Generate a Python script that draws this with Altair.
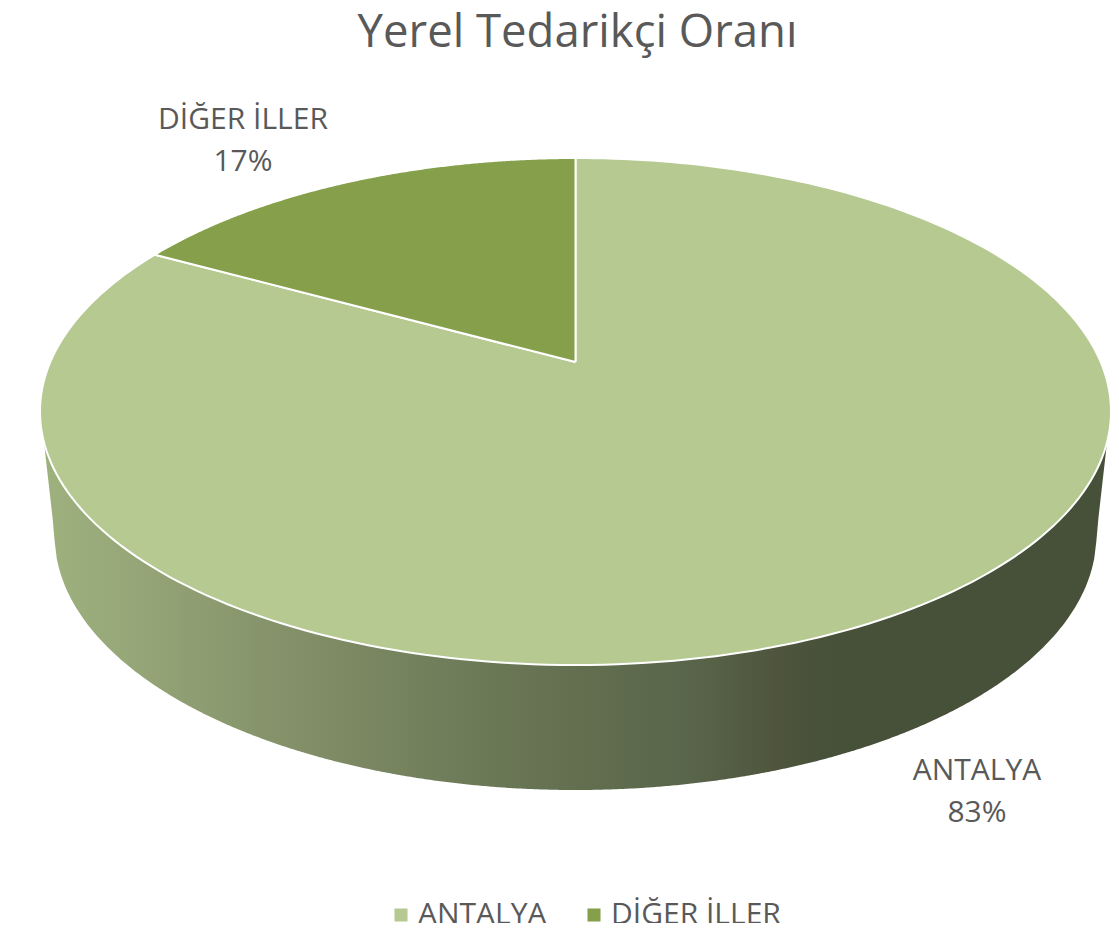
import numpy as np
import pandas as pd
import altair as alt

categories = ["ANTALYA", "DİĞER İLLER"]
shares = [83, 17]
colors = ["#b5c991", "#859f4a"]
title_text = "Yerel Tedarikçi Oranı"
wall_offsets = [0.0, 0.05, 0.24, 0.38, 0.50, 0.61, 0.69, 0.74, 1.0]
wall_colors = ["#9db17d", "#9aab7b", "#828f68", "#6f7d5a", "#636f4f", "#59654a", "#4e553c", "#475039", "#475039"]
FONT = "Open Sans"
TEXT = "#595959"

# Pie geometry: projected disc in page pixels
CX, CY, RX, RY, TILT = 575.5, 411.5, 535.5, 253.5, 0.195
BCY, BRX, BRY = 535.0, 521.0, 255.0


def rim(t):
    a = 2 * np.pi * np.asarray(t)
    sx, cy = np.sin(a), np.cos(a)
    den = 1 + TILT * cy
    u = sx * np.sqrt(1 - TILT ** 2) / den
    v = (cy + TILT) / den
    return CX + RX * u, CY - RY * v


def wedge(cat, start, end):
    ts = np.linspace(start, end, 240)
    x, y = rim(ts)
    apex_x, apex_y = CX, CY - RY * TILT
    xs = [apex_x] + list(x) + [apex_x]
    ys = [apex_y] + list(y) + [apex_y]
    return pd.DataFrame({"cat": cat, "x": xs, "y": ys, "o": range(len(xs))})


total = sum(shares)
frac = [s / total for s in shares]
top = pd.concat([
    wedge(categories[0], 0, frac[0]),
    wedge(categories[1], frac[0], 1),
])

# side wall
wx = np.linspace(44, 1107, 500)
wtop = CY + RY * np.sqrt(np.clip(1 - ((wx - CX) / RX) ** 2, 0, 1))
wbot = BCY + BRY * np.sqrt(np.clip(1 - ((wx - CX) / BRX) ** 2, 0, 1))
wbot = np.where(wx < 54.5, wtop[0] + (535 - wtop[0]) * (wx - 44) / 10.5, wbot)
wbot = np.where(wx > 1096.5, wtop[-1] + (535 - wtop[-1]) * (1107 - wx) / 10.5, wbot)
wall_df = pd.DataFrame({"x": wx, "y": wtop, "y2": wbot})

xs = alt.Scale(domain=[8, 1111])
ys = alt.Scale(domain=[923, 70])
X = alt.X("x:Q", scale=xs, axis=None)
Y = alt.Y("y:Q", scale=ys, axis=None)

wall = alt.Chart(wall_df).mark_area(
    color=alt.Gradient(
        gradient="linear", x1=0, x2=1, y1=0, y2=0,
        stops=[alt.GradientStop(color=c, offset=o) for c, o in zip(wall_colors, wall_offsets)],
    )
).encode(X, Y, y2="y2:Q")

surface = alt.Chart(top).mark_line(stroke="white", strokeWidth=2, strokeJoin="round", interpolate="linear").encode(
    X, Y, order="o:Q",
    fill=alt.Fill("cat:N", scale=alt.Scale(domain=categories, range=colors), legend=alt.Legend(
        orient="none", direction="horizontal", legendX=378, legendY=830, title=None,
        symbolType="square", symbolSize=170, symbolStrokeWidth=0, labelFont=FONT, labelFontSize=30,
        labelColor=TEXT, columnPadding=32, labelOffset=2, labelLimit=400, symbolOpacity=1,
    )),
)

label_df = pd.DataFrame([
    {"text": categories[1], "x": 243, "y": 120},
    {"text": f"{shares[1]}%", "x": 243, "y": 162},
    {"text": categories[0], "x": 977, "y": 771},
    {"text": f"{shares[0]}%", "x": 977, "y": 813},
])
labels = alt.Chart(label_df).mark_text(font=FONT, fontSize=30, color=TEXT, align="center", baseline="middle").encode(
    X, Y, text="text:N"
)

chart = alt.layer(wall, surface, labels).properties(
    width=1103, height=853,
    padding={"left": 0, "top": 62, "right": 0, "bottom": 0},
    autosize=alt.AutoSizeParams(type="none"),
    background="white",
    title=alt.TitleParams(title_text, font=FONT, fontSize=45.5, fontWeight="normal", color=TEXT, anchor="middle", dx=18, offset=14),
).configure_view(stroke=None)

chart.save("out.html", embed_options={"renderer": "svg", "actions": False})
